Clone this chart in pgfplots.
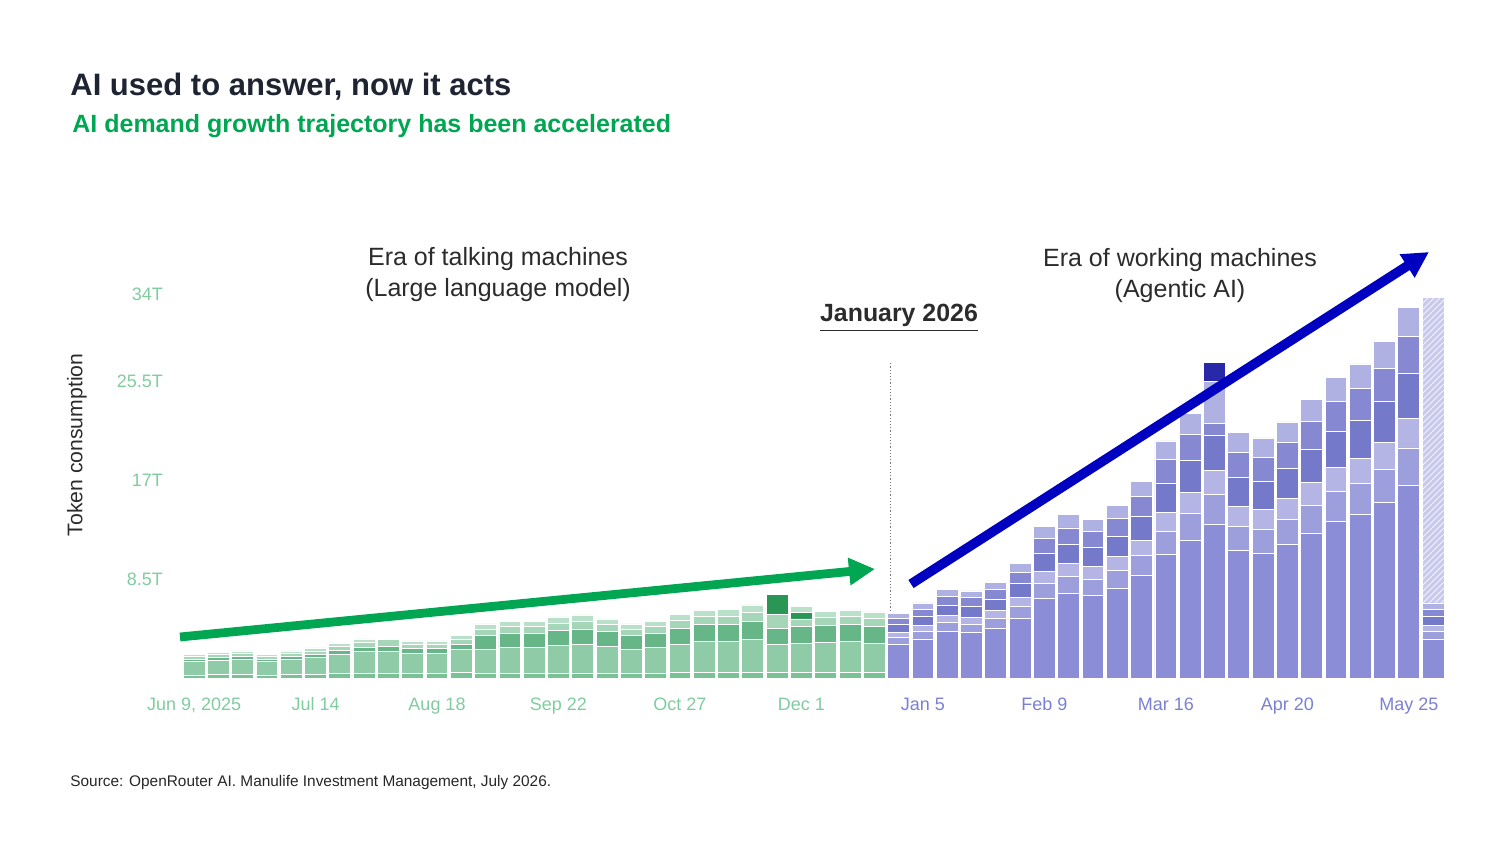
\documentclass[border=0pt]{standalone}
\usepackage{pgfplots}
\pgfplotsset{compat=1.18}
\usepackage{pgfplotstable}
\usepackage{fontspec}
\setmainfont{Liberation Sans}
\usetikzlibrary{patterns,arrows.meta}

\definecolor{titlec}{HTML}{1F2433}
\definecolor{subc}{HTML}{00A651}
\definecolor{annc}{HTML}{2B2B2B}
\definecolor{gtick}{HTML}{7FCC9F}
\definecolor{ptick}{HTML}{7B7FD3}
\definecolor{gA}{HTML}{7BC196}
\definecolor{gB}{HTML}{8FCBA6}
\definecolor{gC}{HTML}{67B687}
\definecolor{gD}{HTML}{A5D6B7}
\definecolor{gK}{HTML}{2A9656}
\definecolor{gE}{HTML}{B9E0C8}
\definecolor{pA}{HTML}{8B8ED6}
\definecolor{pB}{HTML}{9D9FDC}
\definecolor{pC}{HTML}{B4B5E5}
\definecolor{pD}{HTML}{7579C9}
\definecolor{pE}{HTML}{8689D1}
\definecolor{pF}{HTML}{B0B1E3}
\definecolor{pK}{HTML}{2828A8}
\definecolor{pH}{HTML}{C8C9EC}
\definecolor{arrg}{HTML}{00A651}
\definecolor{arrb}{HTML}{0000C0}

% green era (weeks 0..28, Jun 9 2025 - Dec 22 2025), values in T tokens
\pgfplotstableread{
x g1 g2 g3 g4 gd g5
0 0.25 1.13 0.25 0.23 0 0.20
1 0.27 1.23 0.27 0.25 0 0.21
2 0.28 1.28 0.28 0.26 0 0.22
3 0.25 1.13 0.25 0.23 0 0.20
4 0.28 1.28 0.28 0.26 0 0.22
5 0.31 1.42 0.31 0.28 0 0.26
6 0.36 1.65 0.36 0.33 0 0.30
7 0.40 1.84 0.40 0.37 0 0.34
8 0.41 1.89 0.41 0.60 0.12 0
9 0.38 1.75 0.38 0.35 0 0.32
10 0.38 1.75 0.38 0.35 0 0.32
11 0.44 2.03 0.44 0.41 0 0.37
12 0.37 2.09 1.16 0.56 0 0.46
13 0.39 2.20 1.22 0.59 0 0.49
14 0.39 2.20 1.22 0.59 0 0.49
15 0.42 2.36 1.31 0.63 0 0.52
16 0.43 2.43 1.35 0.65 0 0.55
17 0.41 2.28 1.27 0.61 0 0.50
18 0.37 2.09 1.16 0.56 0 0.46
19 0.39 2.20 1.22 0.59 0 0.49
20 0.44 2.47 1.37 0.66 0 0.55
21 0.47 2.63 1.46 0.70 0 0.58
22 0.47 2.66 1.48 0.71 0 0.60
23 0.50 2.82 1.57 0.75 0 0.63
24 0.44 2.46 1.37 1.19 1.75 0
25 0.45 2.53 1.41 0.68 0.55 0.56
26 0.46 2.59 1.44 0.69 0 0.57
27 0.47 2.63 1.46 0.70 0 0.58
28 0.45 2.55 1.42 0.68 0 0.57
}\gtab

% purple era (weeks 29..51, Dec 29 2025 - Jun 1 2026)
\pgfplotstableread{
x p1 p2 p3 p4 p5 p6 pc ph
29 2.90 0.56 0.45 0.67 0.56 0.44 0 0
30 3.35 0.64 0.52 0.77 0.64 0.52 0 0
31 3.97 0.76 0.61 0.92 0.76 0.62 0 0
32 3.88 0.75 0.60 0.90 0.75 0.59 0 0
33 4.28 0.82 0.66 0.99 0.82 0.67 0 0
34 5.13 0.99 0.79 1.18 0.99 0.79 0 0
35 6.79 1.31 1.04 1.57 1.31 1.03 0 0
36 7.28 1.40 1.12 1.68 1.40 1.12 0 0
37 7.10 1.37 1.09 1.64 1.37 1.08 0 0
38 7.72 1.49 1.19 1.78 1.49 1.18 0 0
39 8.79 1.69 1.35 2.03 1.69 1.36 0 0
40 10.58 2.04 1.63 2.44 2.04 1.62 0 0
41 11.83 2.28 1.82 2.73 2.28 1.81 0 0
42 13.22 2.54 2.03 3.05 1.00 3.58 1.63 0
43 10.94 2.10 1.68 2.52 2.10 1.70 0 0
44 10.72 2.06 1.65 2.47 2.06 1.65 0 0
45 11.43 2.20 1.76 2.64 2.20 1.75 0 0
46 12.45 2.40 1.92 2.87 2.40 1.91 0 0
47 13.44 2.58 2.07 3.10 2.58 2.07 0 0
48 14.02 2.70 2.16 3.24 2.70 2.14 0 0
49 15.04 2.89 2.31 3.47 2.89 2.33 0 0
50 16.56 3.19 2.55 3.82 3.19 2.54 0 0
51 3.35 0.64 0.52 0.77 0.64 0.52 0 26.27
}\ptab

\pgfplotsset{
  base/.style={
    at={(90.95pt,-339pt)}, anchor=south west,
    scale only axis, width=631.7pt, height=198pt,
    xmin=-0.5, xmax=51.5, ymin=0, ymax=34,
    ybar stacked, bar width=0.9,
    axis line style={draw=none}, major tick length=0pt,
    tick style={draw=none},
    clip=false,
    xticklabel style={anchor=base, yshift=-16pt, font=\fontsize{9}{10}\selectfont},
  },
  seg/.style={draw=white, line width=0.45pt, fill=#1},
}

\begin{document}
\begin{tikzpicture}
\path[use as bounding box] (0,0) rectangle (750pt,-422pt);

\begin{axis}[base,
  xtick={0,5,10,15,20,25},
  xticklabels={{Jun 9, 2025},{Jul 14},{Aug 18},{Sep 22},{Oct 27},{Dec 1}},
  xticklabel style={text=gtick},
  ytick={8.5,17,25.5},
  yticklabels={8.5T,17T,25.5T},
  extra y ticks={34},
  extra y tick labels={34T},
  extra y tick style={yticklabel style={yshift=-6pt}},
  yticklabel style={anchor=east, xshift=-6pt, text=gtick, font=\fontsize{9}{10}\selectfont},
]
\addplot[seg=gA] table[x=x,y=g1] {\gtab};
\addplot[seg=gB] table[x=x,y=g2] {\gtab};
\addplot[seg=gC] table[x=x,y=g3] {\gtab};
\addplot[seg=gD] table[x=x,y=g4] {\gtab};
\addplot[seg=gK] table[x=x,y=gd] {\gtab};
\addplot[seg=gE] table[x=x,y=g5] {\gtab};
\end{axis}

\begin{axis}[base,
  xtick={30,35,40,45,50},
  xticklabels={{Jan 5},{Feb 9},{Mar 16},{Apr 20},{May 25}},
  xticklabel style={text=ptick},
  ytick=\empty,
]
\addplot[seg=pA] table[x=x,y=p1] {\ptab};
\addplot[seg=pB] table[x=x,y=p2] {\ptab};
\addplot[seg=pC] table[x=x,y=p3] {\ptab};
\addplot[seg=pD] table[x=x,y=p4] {\ptab};
\addplot[seg=pE] table[x=x,y=p5] {\ptab};
\addplot[seg=pF] table[x=x,y=p6] {\ptab};
\addplot[seg=pK] table[x=x,y=pc] {\ptab};
\addplot[draw=white, line width=0.45pt, fill=pH,
  postaction={pattern=north east lines, pattern color=white!80!pH}] table[x=x,y=ph] {\ptab};
\draw[densely dotted, color=black!55, line width=0.6pt] (axis cs:28.67,0) -- (axis cs:28.67,27.1);
\end{axis}

\begin{scope}[x=0.5pt,y=-0.5pt]
\node[anchor=base west, inner sep=0, text=titlec, font=\bfseries\fontsize{15.5}{18}\selectfont] at (70,96) {AI used to answer, now it acts};
\node[anchor=base west, inner sep=0, text=subc, font=\bfseries\fontsize{12.5}{14}\selectfont] at (72,133) {AI demand growth trajectory has been accelerated};

\node[anchor=base, inner sep=0, text=annc, font=\fontsize{12.5}{14}\selectfont] at (498,266) {Era of talking machines};
\node[anchor=base, inner sep=0, text=annc, font=\fontsize{12.5}{14}\selectfont] at (498,297) {(Large language model)};
\node[anchor=base, inner sep=0, text=annc, font=\fontsize{12.5}{14}\selectfont] at (1180,267) {Era of working machines};
\node[anchor=base, inner sep=0, text=annc, font=\fontsize{12.5}{14}\selectfont] at (1180,298) {(Agentic AI)};
\node[anchor=base, inner sep=0, text=annc, font=\bfseries\fontsize{12.45}{14}\selectfont] at (899,322) {\underline{January 2026}};

\node[rotate=90, inner sep=0, text=annc, font=\fontsize{10.6}{12}\selectfont] at (77,445) {Token consumption};

\node[anchor=base west, inner sep=0, text=black!85, font=\fontsize{7.7}{9}\selectfont] at (70,786) {Source: OpenRouter AI. Manulife Investment Management, July 2026.};

\draw[line width=4.4pt, color=arrg, -{Triangle[length=13pt,width=13pt]}] (180,637) -- (875,569);
\draw[line width=4.8pt, color=arrb, -{Triangle[length=13pt,width=13pt]}] (911,584) -- (1429,252);
\end{scope}
\end{tikzpicture}
\end{document}
